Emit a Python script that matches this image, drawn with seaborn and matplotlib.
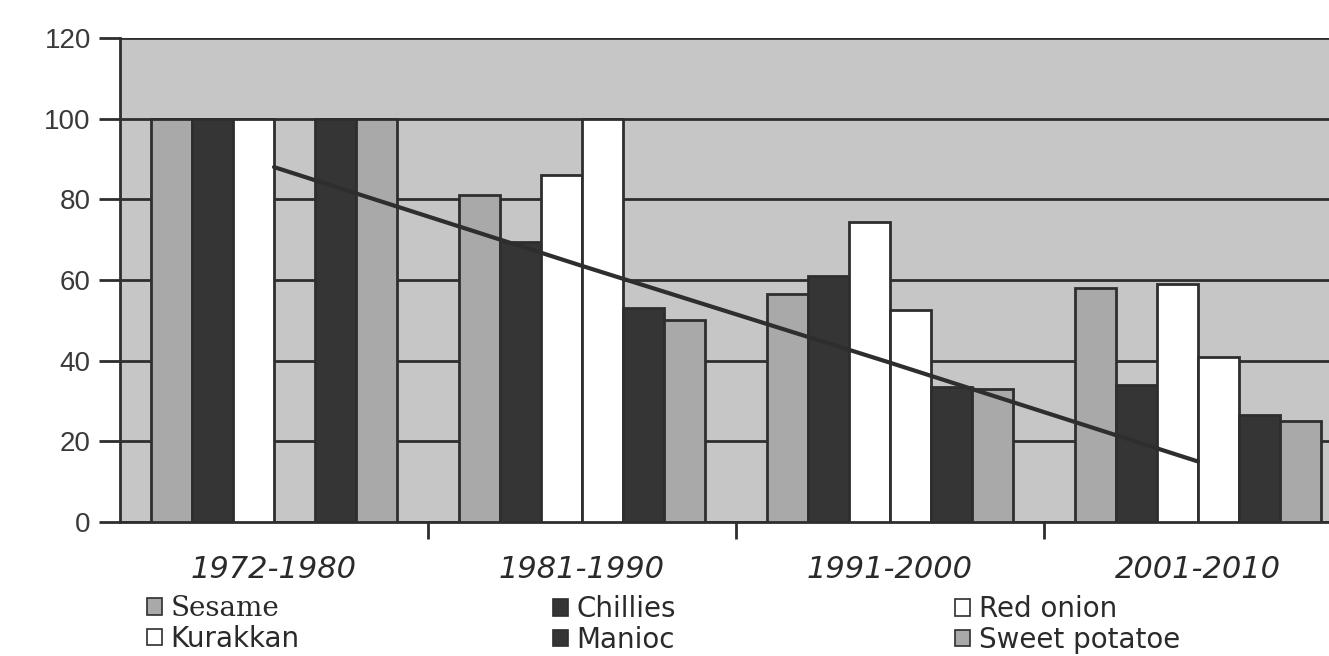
import pandas as pd
import matplotlib
matplotlib.use("Agg")
import matplotlib.pyplot as plt
from matplotlib.patches import Patch
import seaborn as sns

# values
periods = ["1972-1980", "1981-1990", "1991-2000", "2001-2010"]
crops = ["Sesame", "Chillies", "Red onion", "Kurakkan", "Manioc", "Sweet potatoe"]
sesame = [100, 81, 56.5, 58]
chillies = [100, 69.5, 61, 34]
red_onion = [100, 86, 74.5, 59]
kurakkan = [None, 100, 52.5, 41]
manioc = [100, 53, 33.5, 26.5]
sweet_potatoe = [100, 50, 33, 25]
trend = [88, 63.5, 39.5, 15]

crop_colors = ["#a9a9a9", "#353535", "#ffffff", "#ffffff", "#353535", "#a9a9a9"]
bg = "#c6c6c6"
ink = "#2e2e2e"

series = [sesame, chillies, red_onion, kurakkan, manioc, sweet_potatoe]
rows = []
for crop, vals in zip(crops, series):
    for period, v in zip(periods, vals):
        rows.append({"period": period, "crop": crop, "value": v})
df = pd.DataFrame(rows)

sns.set_theme(style="white")
plt.rcParams["font.family"] = ["DejaVu Sans"]

fig = plt.figure(figsize=(13.29, 6.56), dpi=100)
ax = fig.add_axes([120 / 1329, 1 - 522 / 656, 1232 / 1329, 484 / 656])
ax.set_facecolor(bg)

sns.barplot(data=df, x="period", y="value", hue="crop", order=periods,
            hue_order=crops, palette=crop_colors, width=0.8,
            edgecolor=ink, linewidth=2, saturation=1, ax=ax, zorder=3)
ax.get_legend().remove()

# trend line across the periods
ax.plot(range(len(periods)), trend, color=ink, lw=3, zorder=5)

ax.set_ylim(0, 120)
ax.set_xlim(-0.5, len(periods) - 0.5)
ax.set_yticks(range(0, 121, 20))
ax.yaxis.grid(True, color=ink, lw=2)
ax.set_axisbelow(True)
ax.set_xlabel("")
ax.set_ylabel("")

for side in ["top", "right"]:
    ax.spines[side].set_visible(False)
for side in ["left", "bottom"]:
    ax.spines[side].set_color(ink)
    ax.spines[side].set_linewidth(2)

ax.tick_params(axis="y", left=True, length=15, width=2, color=ink,
               labelsize=20, labelcolor="#3a3a3a", pad=6)
for lab in ax.get_yticklabels():
    lab.set_family(["Liberation Sans", "DejaVu Sans"])
ax.tick_params(axis="x", which="major", length=0, pad=24, labelsize=22,
               labelcolor="#2a2a2a")
for lab in ax.get_xticklabels():
    lab.set_style("italic")
ax.set_xticks([i + 0.5 for i in range(len(periods) - 1)], minor=True)
ax.tick_params(axis="x", which="minor", bottom=True, length=12, width=2,
               color=ink)

# legend: three columns, two rows
legend_x = [147, 553, 955]
for c in range(3):
    idx = [c, c + 3]
    handles = [Patch(facecolor=crop_colors[i], edgecolor=ink, lw=1.2) for i in idx]
    leg = fig.legend(handles, [crops[i] for i in idx], loc="upper left",
                     bbox_to_anchor=(legend_x[c] / 1329, 1 - 595 / 656),
                     frameon=False, fontsize=20, handlelength=0.55,
                     handleheight=0.55, handletextpad=0.3, labelspacing=0.1,
                     borderpad=0, borderaxespad=0)
    for t in leg.get_texts():
        t.set_color("#2a2a2a")
        if t.get_text() == "Sesame":
            t.set_family(["DejaVu Serif"])

fig.savefig("out.png", dpi=100)
